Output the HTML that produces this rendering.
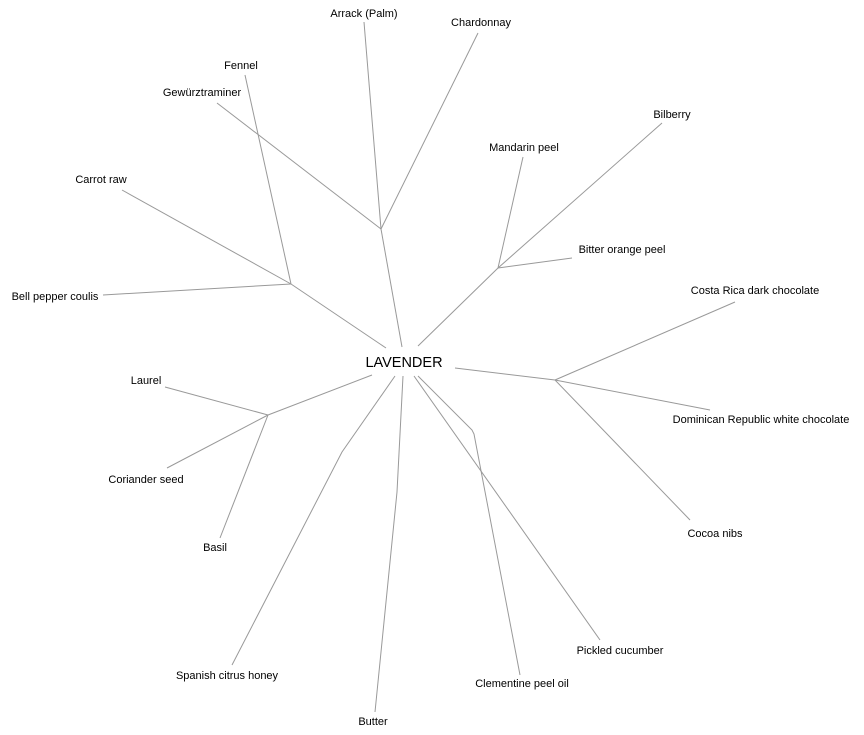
<!DOCTYPE html>
<html><head><style>
html,body{margin:0;padding:0;background:#fff;width:864px;height:735px;overflow:hidden}
svg text{font-family:"Liberation Sans",sans-serif;font-size:11px;fill:#000;text-anchor:middle}
</style></head><body>
<svg width="864" height="735" xmlns="http://www.w3.org/2000/svg">
<g stroke="#999" stroke-width="1" fill="none">
<line x1="402" y1="347" x2="381" y2="229"/>
<line x1="381" y1="229" x2="364" y2="22"/>
<line x1="381" y1="229" x2="478" y2="33"/>
<line x1="381" y1="229" x2="217" y2="103"/>
<line x1="386" y1="348" x2="291" y2="284"/>
<line x1="291" y1="284" x2="245" y2="75"/>
<line x1="291" y1="284" x2="122" y2="190"/>
<line x1="291" y1="284" x2="103" y2="295"/>
<line x1="418" y1="346" x2="498" y2="268"/>
<line x1="498" y1="268" x2="523" y2="157"/>
<line x1="498" y1="268" x2="662" y2="123"/>
<line x1="498" y1="268" x2="572" y2="258"/>
<line x1="455" y1="368" x2="555" y2="380"/>
<line x1="555" y1="380" x2="735" y2="302"/>
<line x1="555" y1="380" x2="710" y2="410"/>
<line x1="555" y1="380" x2="690" y2="520"/>
<line x1="372" y1="375" x2="268" y2="415"/>
<line x1="268" y1="415" x2="165" y2="387"/>
<line x1="268" y1="415" x2="167" y2="468"/>
<line x1="268" y1="415" x2="220" y2="538"/>
<polyline points="395,376 342,452 232,665"/>
<polyline points="403,376 397,492 375,712"/>
<polyline points="418,376 472,430 474,434 520,675"/>
<line x1="414" y1="376" x2="600" y2="640"/>
</g>
<text x="404" y="367" style="font-size:14.5px">LAVENDER</text>
<text x="364" y="17">Arrack (Palm)</text>
<text x="481" y="26">Chardonnay</text>
<text x="241" y="69">Fennel</text>
<text x="202" y="96">Gewürztraminer</text>
<text x="101" y="183">Carrot raw</text>
<text x="55" y="300">Bell pepper coulis</text>
<text x="524" y="151">Mandarin peel</text>
<text x="672" y="118">Bilberry</text>
<text x="622" y="253">Bitter orange peel</text>
<text x="755" y="294">Costa Rica dark chocolate</text>
<text x="761" y="423">Dominican Republic white chocolate</text>
<text x="715" y="537">Cocoa nibs</text>
<text x="146" y="384">Laurel</text>
<text x="146" y="483">Coriander seed</text>
<text x="215" y="551">Basil</text>
<text x="227" y="679">Spanish citrus honey</text>
<text x="373" y="725">Butter</text>
<text x="522" y="687">Clementine peel oil</text>
<text x="620" y="654">Pickled cucumber</text>
</svg>
</body></html>
